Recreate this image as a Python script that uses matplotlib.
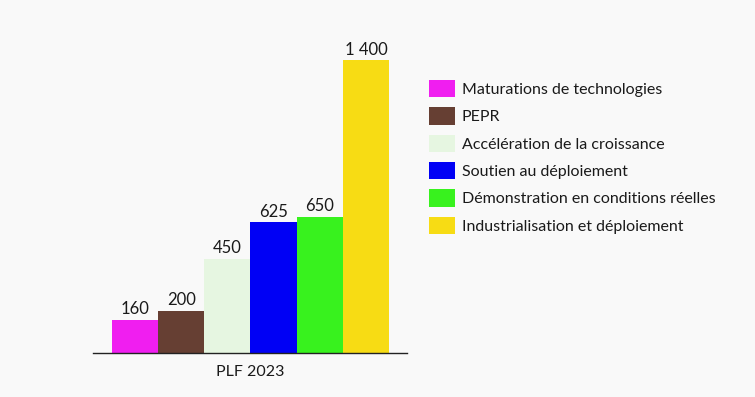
import matplotlib.pyplot as plt
from matplotlib.patches import Patch

# data
categories = [
    "Maturations de technologies",
    "PEPR",
    "Accélération de la croissance",
    "Soutien au déploiement",
    "Démonstration en conditions réelles",
    "Industrialisation et déploiement",
]
values = [160, 200, 450, 625, 650, 1400]
value_labels = ["160", "200", "450", "625", "650", "1 400"]
colors = ["#F01EF0", "#663F33", "#E6F6E1", "#0000F5", "#38F21E", "#F7DC14"]
group_label = "PLF 2023"

plt.rcParams["font.family"] = ["Lato", "DejaVu Sans"]

fig = plt.figure(figsize=(7.55, 3.97), dpi=100)
fig.patch.set_facecolor("#F9F9F9")
ax = fig.add_axes([93 / 755, 44 / 397, 314 / 755, 333 / 397])
ax.set_facecolor("#F9F9F9")

x = list(range(len(values)))
bars = ax.bar(x, values, width=1.0, color=colors, edgecolor="none")

for b, lab in zip(bars, value_labels):
    ax.annotate(lab, (b.get_x() + b.get_width() / 2, b.get_height()),
                xytext=(0, 2), textcoords="offset points",
                ha="center", va="bottom", fontsize=12, color="#1a1a1a")

ax.set_xlim(-0.91, 5.89)
ax.set_ylim(0, 1593)
for s in ["top", "right", "left"]:
    ax.spines[s].set_visible(False)
ax.spines["bottom"].set_color("#222222")
ax.spines["bottom"].set_linewidth(1.0)
ax.set_yticks([])
ax.set_xticks([2.5])
ax.set_xticklabels([group_label], fontsize=11.5, color="#1a1a1a")
ax.tick_params(axis="x", length=0, pad=9)

handles = [Patch(facecolor=c, edgecolor="none") for c in colors]
fig.legend(handles, categories, loc="upper left",
           bbox_to_anchor=(429 / 755, 1 - 80 / 397),
           frameon=False, fontsize=11.5, borderpad=0, borderaxespad=0,
           handlelength=1.65, handleheight=1.3, handletextpad=0.4,
           labelspacing=0.62, labelcolor="#1a1a1a")

fig.savefig("out.png", dpi=100, facecolor=fig.get_facecolor())
